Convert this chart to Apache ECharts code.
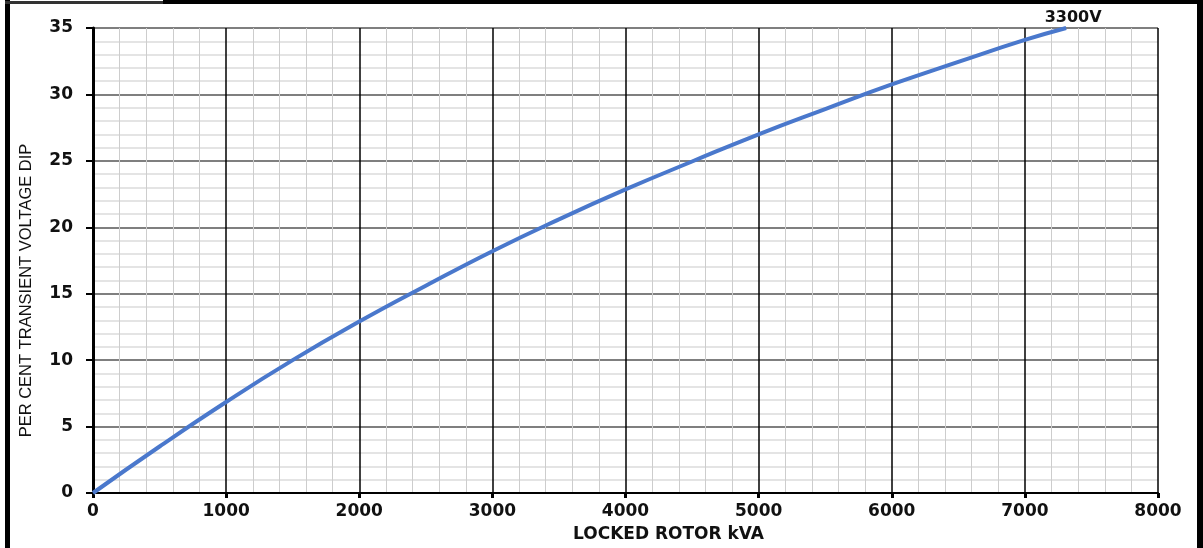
<!DOCTYPE html>
<html>
<head>
<meta charset="utf-8">
<script src="https://cdn.jsdelivr.net/npm/echarts@6/dist/echarts.min.js"></script>
<style>
html,body{margin:0;padding:0;background:#fff;}
#chart{width:1203px;height:548px;}
</style>
</head>
<body>
<div id="chart"></div>
<script>
// Locked rotor kVA (x) and per cent transient voltage dip (y) for the 3300V curve
const kva = [0, 500, 1000, 1500, 2000, 2500, 3000, 3500, 4000, 4500, 5000, 5500, 6000, 6500, 7000, 7310];
const dip = [0, 3.5, 6.85, 10.0, 12.9, 15.6, 18.2, 20.6, 22.85, 24.95, 27.0, 28.9, 30.75, 32.45, 34.1, 35.0];
const seriesName = '3300V';
const xTitle = 'LOCKED ROTOR kVA';
const yTitle = 'PER CENT TRANSIENT VOLTAGE DIP';

const points = kva.map((x, i) => [x, dip[i]]);
const last = points[points.length - 1];

const chart = echarts.init(document.getElementById('chart'));
chart.setOption({
  animation: false,
  backgroundColor: '#fff',
  grid: { left: 93, right: 45, top: 28, bottom: 52 },
  graphic: [
    { type: 'rect', shape: { x: 5, y: 0, width: 5, height: 548 }, style: { fill: '#000' } },
    { type: 'rect', shape: { x: 5, y: 1, width: 160, height: 3 }, style: { fill: '#333' } },
    { type: 'rect', shape: { x: 163, y: 0, width: 1040, height: 4 }, style: { fill: '#000' } },
    { type: 'rect', shape: { x: 1197, y: 0, width: 6, height: 548 }, style: { fill: '#000' } }
  ],
  xAxis: {
    type: 'value', min: 0, max: 8000, interval: 1000,
    name: xTitle, nameLocation: 'middle', nameGap: 33,
    nameTextStyle: { fontFamily: 'DejaVu Sans', fontWeight: 'bold', fontSize: 17, color: '#111', padding: [0, 0, 0, 86] },
    axisLine: { show: true, onZero: true, lineStyle: { color: '#000', width: 2 } },
    axisTick: { show: true, length: 5, lineStyle: { color: '#000', width: 3 } },
    axisLabel: {
      margin: 10, fontFamily: 'DejaVu Sans', fontWeight: 'bold', fontSize: 17, color: '#111',
      formatter: v => String(v)
    },
    splitLine: { show: true, lineStyle: { color: '#000', width: 1.5 } },
    minorTick: { show: false, splitNumber: 5 },
    minorSplitLine: { show: true, lineStyle: { color: '#cdcdcd', width: 1 } }
  },
  yAxis: {
    type: 'value', min: 0, max: 35, interval: 5,
    name: yTitle, nameLocation: 'middle', nameGap: 58,
    nameTextStyle: { fontFamily: 'Liberation Sans', fontSize: 16.5, color: '#111', padding: [0, 60, 0, 0] },
    axisLine: { show: true, lineStyle: { color: '#000', width: 3 } },
    axisTick: { show: true, length: 7, lineStyle: { color: '#000', width: 2 } },
    axisLabel: { margin: 20, fontFamily: 'DejaVu Sans', fontWeight: 'bold', fontSize: 17, color: '#111' },
    splitLine: { show: true, lineStyle: { color: '#555', width: 1.5 } },
    minorTick: { show: false, splitNumber: 5 },
    minorSplitLine: { show: true, lineStyle: { color: '#e4e4e4', width: 2 } }
  },
  series: [{
    name: seriesName,
    type: 'line',
    data: points,
    smooth: true,
    showSymbol: false,
    lineStyle: { color: '#4a78cc', width: 4 },
    markPoint: {
      symbol: 'circle', symbolSize: 1,
      itemStyle: { color: 'rgba(0,0,0,0)' },
      label: {
        show: true, position: 'top', distance: 2, offset: [7, 0],
        formatter: seriesName,
        fontFamily: 'DejaVu Sans', fontWeight: 'bold', fontSize: 16, color: '#111'
      },
      data: [{ coord: last, value: seriesName }]
    }
  }]
});
</script>
</body>
</html>
